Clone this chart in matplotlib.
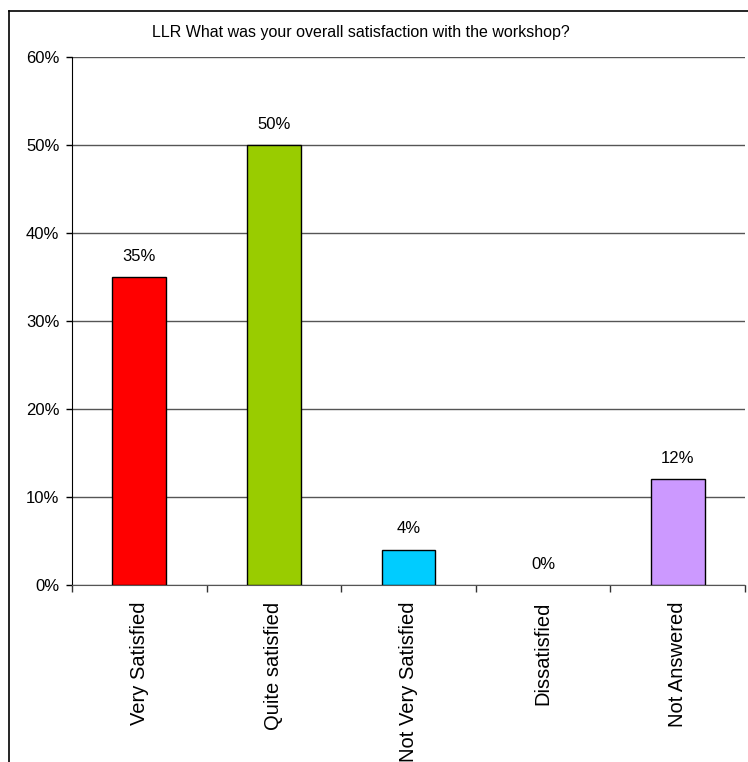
import matplotlib
matplotlib.use('Agg')
import matplotlib.pyplot as plt
from matplotlib.lines import Line2D

# survey answers and their share of responses (%)
categories = ['Very Satisfied', 'Quite satisfied', 'Not Very Satisfied', 'Dissatisfied', 'Not Answered']
values = [35, 50, 4, 0, 12]
colors = ['#FF0000', '#99CC00', '#00CCFF', '#FFFF99', '#CC99FF']
y_ticks = [0, 10, 20, 30, 40, 50, 60]
title = 'LLR What was your overall satisfaction with the workshop?'

plt.rcParams['font.family'] = ['Liberation Sans', 'DejaVu Sans']

fig = plt.figure(figsize=(7.48, 7.62), dpi=100)
ax = fig.add_axes([72 / 748, 1 - 585 / 762, (745 - 72) / 748, (585 - 57) / 762])

x = list(range(len(categories)))
# an empty bar draws no outline
edges = [1 if v > 0 else 0 for v in values]
ax.bar(x, values, width=0.4, color=colors, edgecolor='black', linewidth=edges, zorder=3)

for xi, v in zip(x, values):
    ax.annotate('%d%%' % v, (xi, v), xytext=(0, 15), textcoords='offset points',
                ha='center', va='center', fontsize=12)

ax.set_xlim(-0.5, len(categories) - 0.5)
ax.set_ylim(0, 60)
ax.set_yticks(y_ticks)
ax.set_yticklabels(['%d%%' % t for t in y_ticks])
ax.yaxis.grid(True, color='#555555', linewidth=1, zorder=0)
ax.tick_params(axis='y', length=4, width=1, pad=5, labelsize=12)

# labels sit under bars, tick marks sit between them
ax.set_xticks(x)
ax.set_xticklabels(categories, rotation=90, va='top', fontsize=14.5)
ax.set_xticks([i - 0.5 for i in range(len(categories) + 1)], minor=True)
ax.tick_params(axis='x', which='major', length=0, pad=12)
ax.tick_params(axis='x', which='minor', length=5, width=1, color='#333333')

ax.spines['top'].set_visible(False)
ax.spines['right'].set_visible(False)
ax.spines['bottom'].set_color('#555555')
ax.spines['left'].set_color('black')

fig.text(361 / 748, 1 - 32 / 762, title, ha='center', va='center', fontsize=11.5)

# chart-area border (left and top edges visible)
fig.add_artist(Line2D([9 / 748, 9 / 748], [0, 1 - 11 / 762], color='black', linewidth=1.2))
fig.add_artist(Line2D([9 / 748, 1], [1 - 11 / 762, 1 - 11 / 762], color='black', linewidth=1.2))

fig.savefig('out.png', dpi=100)
